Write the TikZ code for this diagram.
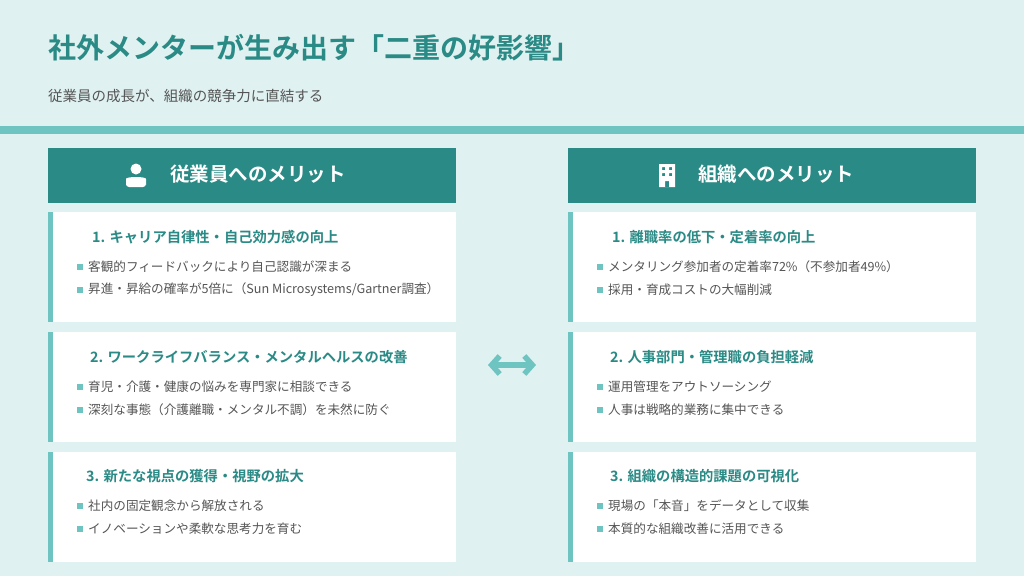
\documentclass[tikz,border=0pt]{standalone}
\usepackage{fontspec}
\setmainfont{Noto Sans CJK JP}[BoldFont={Noto Sans CJK JP Bold}]
\usepackage{tikz}
\usetikzlibrary{arrows.meta,positioning}
\definecolor{bgmint}{HTML}{E0F1F1}
\definecolor{deepteal}{HTML}{2A8A85}
\definecolor{softteal}{HTML}{6EC4C0}
\definecolor{bodygray}{HTML}{555555}
\begin{document}
\begin{tikzpicture}[x=1pt,y=-1pt,>=Stealth,
header/.style={fill=deepteal, minimum width=408, minimum height=55, inner sep=0},
headtext/.style={anchor=west, text=white, font=\bfseries\fontsize{19.5}{22}\selectfont, inner sep=0},
card/.style={fill=white, minimum width=408, minimum height=110, inner sep=0},
bar/.style={fill=softteal, minimum width=5, minimum height=110, inner sep=0},
cardtitle/.style={anchor=west, text=deepteal, font=\bfseries\fontsize{14.3}{16}\selectfont, inner sep=0},
point/.style={anchor=west, text=bodygray, font=\fontsize{12.6}{14}\selectfont, inner sep=0},
dot/.style={fill=softteal, minimum size=6, inner sep=0}]
\fill[bgmint] (0,0) rectangle (1024,576);
\useasboundingbox (0,0) rectangle (1024,576);

\node (title) [anchor=west, text=deepteal, font=\bfseries\fontsize{28}{31}\selectfont, inner sep=0]
at (48,48) {社外メンターが生み出す「二重の好影響」};
\node (subtitle) [anchor=west, text=bodygray, font=\fontsize{14.5}{16}\selectfont, inner sep=0]
at (48,96) {従業員の成長が、組織の競争力に直結する};
\fill[softteal] (0,126) rectangle (1024,134);

% headers
\node (staffhead) [header] at (252,175) {};
\node (staffheadt) [headtext] at (170,174) {従業員へのメリット};
\node (orghead) [header] at (772,175) {};
\node (orgheadt) [headtext] at (698,174) {組織へのメリット};
% person icon
\fill[white] (136,169) circle (5.5);
\fill[white, rounded corners=3] (126,187) -- (126,182) .. controls (126,178) and (130,177) .. (136,177)
.. controls (142,177) and (146,178) .. (146,182) -- (146,187) -- cycle;
% building icon
\fill[white, even odd rule] (659,164) rectangle (675,187)
(662,167) rectangle (665,170) (669,167) rectangle (672,170)
(662,173) rectangle (665,176) (669,173) rectangle (672,176)
(665,181) rectangle (669,187);

% employee cards
\node (staffa) [card] at (252,267) {};
\node (staffabar) [bar, anchor=west] at (staffa.west) {};
\node (staffat) [cardtitle] at (92,237) {1. キャリア自律性・自己効力感の向上};
\node (staffa1) [point] at (88,267) {客観的フィードバックにより自己認識が深まる};
\node (staffa2) [point] at (88,290) {昇進・昇給の確率が5倍に（Sun Microsystems/Gartner調査）};

\node (staffb) [card] at (252,387) {};
\node (staffbbar) [bar, anchor=west] at (staffb.west) {};
\node (staffbt) [cardtitle] at (90,357) {2. ワークライフバランス・メンタルヘルスの改善};
\node (staffb1) [point] at (88,387) {育児・介護・健康の悩みを専門家に相談できる};
\node (staffb2) [point] at (88,410) {深刻な事態（介護離職・メンタル不調）を未然に防ぐ};

\node (staffc) [card] at (252,507) {};
\node (staffcbar) [bar, anchor=west] at (staffc.west) {};
\node (staffct) [cardtitle] at (86,476) {3. 新たな視点の獲得・視野の拡大};
\node (staffc1) [point] at (88,506) {社内の固定観念から解放される};
\node (staffc2) [point] at (88,529) {イノベーションや柔軟な思考力を育む};

% organisation cards
\node (orga) [card] at (772,267) {};
\node (orgabar) [bar, anchor=west] at (orga.west) {};
\node (orgat) [cardtitle] at (612,237) {1. 離職率の低下・定着率の向上};
\node (orga1) [point] at (608,267) {メンタリング参加者の定着率72\%（不参加者49\%）};
\node (orga2) [point] at (608,290) {採用・育成コストの大幅削減};

\node (orgb) [card] at (772,387) {};
\node (orgbbar) [bar, anchor=west] at (orgb.west) {};
\node (orgbt) [cardtitle] at (610,357) {2. 人事部門・管理職の負担軽減};
\node (orgb1) [point] at (608,387) {運用管理をアウトソーシング};
\node (orgb2) [point] at (608,410) {人事は戦略的業務に集中できる};

\node (orgc) [card] at (772,507) {};
\node (orgcbar) [bar, anchor=west] at (orgc.west) {};
\node (orgct) [cardtitle] at (610,476) {3. 組織の構造的課題の可視化};
\node (orgc1) [point] at (608,506) {現場の「本音」をデータとして収集};
\node (orgc2) [point] at (608,529) {本質的な組織改善に活用できる};

% bullets
\foreach \p in {staffa1,staffa2,staffb1,staffb2,staffc1,staffc2,orga1,orga2,orgb1,orgb2,orgc1,orgc2}
  \node [dot, left=5pt of \p] {};

% link arrow
\coordinate (linkl) at (488,365);
\coordinate (linkr) at (536,365);
\draw[softteal, line width=5.5, line cap=round, {Straight Barb[length=8,width=18]}-{Straight Barb[length=8,width=18]}] (linkl) -- (linkr);
\end{tikzpicture}
\end{document}
